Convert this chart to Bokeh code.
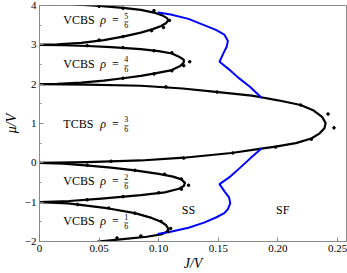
from bokeh.plotting import figure
from bokeh.models import Range1d, FixedTicker
from bokeh.core.properties import value
from bokeh.embed import file_html
from bokeh.resources import INLINE

# ---- Mott lobes (black) : J/V and mu/V ----
lobe5_J = [0.030, 0.050, 0.070, 0.085, 0.096, 0.103, 0.107, 0.108, 0.106, 0.102, 0.095, 0.085, 0.070, 0.054, 0.035, 0.015, 0.0]
lobe5_mu = [4.03, 3.99, 3.94, 3.89, 3.82, 3.75, 3.68, 3.62, 3.55, 3.48, 3.40, 3.31, 3.21, 3.12, 3.05, 3.01, 3.0]

lobe4_J = [0.0, 0.020, 0.040, 0.060, 0.085, 0.100, 0.111, 0.117, 0.121, 0.121, 0.118, 0.110, 0.098, 0.085, 0.070, 0.054, 0.035, 0.015, 0.0]
lobe4_mu = [3.0, 2.99, 2.97, 2.94, 2.89, 2.84, 2.78, 2.70, 2.62, 2.55, 2.46, 2.35, 2.28, 2.21, 2.15, 2.09, 2.04, 2.01, 2.0]

lobe3_J = [0.0, 0.040, 0.085, 0.120, 0.150, 0.178, 0.187, 0.200, 0.219, 0.230, 0.237, 0.240, 0.239, 0.235, 0.228, 0.215, 0.198, 0.186, 0.161, 0.121, 0.085, 0.040, 0.0]
lobe3_mu = [2.0, 1.99, 1.96, 1.89, 1.80, 1.71, 1.66, 1.59, 1.47, 1.33, 1.17, 1.01, 0.88, 0.75, 0.62, 0.50, 0.41, 0.36, 0.25, 0.13, 0.06, 0.02, 0.0]

lobe2_J = [0.0, 0.020, 0.041, 0.060, 0.080, 0.100, 0.112, 0.119, 0.122, 0.121, 0.117, 0.105, 0.085, 0.052, 0.025, 0.0]
lobe2_mu = [0.0, -0.02, -0.07, -0.12, -0.19, -0.28, -0.35, -0.42, -0.51, -0.59, -0.66, -0.75, -0.82, -0.91, -0.97, -1.0]

lobe1_J = [0.0, 0.024, 0.058, 0.080, 0.094, 0.102, 0.106, 0.108, 0.107, 0.102, 0.090, 0.070, 0.049]
lobe1_mu = [-1.0, -1.03, -1.16, -1.28, -1.40, -1.50, -1.58, -1.67, -1.75, -1.82, -1.88, -1.94, -2.0]

# ---- SS / SF boundaries (blue) ----
blue_up_J = [0.100, 0.110, 0.125, 0.138, 0.148, 0.155, 0.158, 0.157, 0.154, 0.151, 0.160, 0.167, 0.177, 0.186]
blue_up_mu = [3.82, 3.77, 3.66, 3.50, 3.38, 3.26, 3.10, 2.95, 2.77, 2.57, 2.35, 2.16, 1.92, 1.66]

blue_lo_J = [0.186, 0.177, 0.167, 0.160, 0.151, 0.155, 0.159, 0.160, 0.158, 0.155, 0.148, 0.138, 0.125, 0.110, 0.100]
blue_lo_mu = [0.36, 0.12, -0.16, -0.35, -0.54, -0.72, -0.88, -1.03, -1.18, -1.28, -1.39, -1.52, -1.65, -1.75, -1.80]

# ---- simulation points (small black dots) ----
dots_J = [0.050, 0.070, 0.096, 0.109, 0.104, 0.094, 0.070, 0.050,
          0.040, 0.070, 0.096, 0.111, 0.126, 0.121, 0.111, 0.096, 0.070,
          0.106, 0.149, 0.219, 0.242, 0.247, 0.228, 0.198, 0.162, 0.121, 0.060,
          0.040, 0.080, 0.105, 0.119, 0.125, 0.119, 0.100, 0.070, 0.040,
          0.032, 0.058, 0.080, 0.102, 0.110, 0.108, 0.085, 0.065]
dots_mu = [3.98, 3.93, 3.87, 3.62, 3.44, 3.36, 3.21, 3.12,
           2.98, 2.93, 2.85, 2.80, 2.57, 2.47, 2.34, 2.26, 2.15,
           1.93, 1.80, 1.47, 1.24, 0.89, 0.60, 0.40, 0.25, 0.12, 0.04,
           -0.06, -0.19, -0.29, -0.41, -0.57, -0.67, -0.76, -0.86, -0.94,
           -1.06, -1.15, -1.28, -1.49, -1.67, -1.75, -1.86, -1.91]

# ---- labels ----
phase_names = ["VCBS", "VCBS", "TCBS", "VCBS", "VCBS"]
phase_J = [0.020, 0.020, 0.020, 0.020, 0.020]
phase_mu = [3.62, 2.52, 0.99, -0.47, -1.49]
frac_num = ["5", "4", "3", "2", "1"]
frac_den = ["6", "6", "6", "6", "6"]

region_names = ["SS", "SF"]
region_J = [0.125, 0.204]
region_mu = [-1.20, -1.20]

x_ticks = [0.0, 0.05, 0.10, 0.15, 0.20, 0.25]
x_tick_labels = ["0", "0.05", "0.10", "0.15", "0.20", "0.25"]
y_ticks = [-2, -1, 0, 1, 2, 3, 4]

FONT = "Liberation Serif"
GRAY = "#8a8a8a"

p = figure(width=347, height=273, output_backend="svg", toolbar_location=None,
           x_range=Range1d(0, 0.2575), y_range=Range1d(-2, 4),
           min_border_left=30, min_border_right=1, min_border_top=5, min_border_bottom=0)
p.xgrid.visible = False
p.ygrid.visible = False
p.outline_line_color = GRAY
p.outline_line_width = 1
p.background_fill_color = "white"
p.border_fill_color = "white"

for ax in (p.xaxis[0], p.yaxis[0]):
    ax.axis_line_color = GRAY
    ax.major_tick_line_color = GRAY
    ax.minor_tick_line_color = GRAY
    ax.major_tick_in = 4
    ax.major_tick_out = 0
    ax.minor_tick_in = 2
    ax.minor_tick_out = 0
    ax.major_label_text_font = FONT
    ax.major_label_text_font_size = "11px"
    ax.major_label_text_color = "black"
    ax.axis_label_text_font = FONT
    ax.axis_label_text_font_style = "italic"
    ax.axis_label_text_font_size = "14px"
    ax.axis_label_text_color = "black"

p.xaxis.ticker = FixedTicker(ticks=x_ticks)
p.xaxis.major_label_overrides = {t: s for t, s in zip(x_ticks, x_tick_labels)}
p.xaxis.minor_tick_line_color = None
p.xaxis.major_label_standoff = 3
p.xaxis.axis_label = "J/V"
p.xaxis.axis_label_standoff = 1

p.yaxis.ticker = FixedTicker(ticks=y_ticks, minor_ticks=[-1.5, -0.5, 0.5, 1.5, 2.5, 3.5])
p.yaxis.major_label_standoff = 3
p.yaxis.axis_label = "μ/V"
p.yaxis.axis_label_standoff = 3

for J, mu in [(lobe5_J, lobe5_mu), (lobe4_J, lobe4_mu), (lobe3_J, lobe3_mu),
              (lobe2_J, lobe2_mu), (lobe1_J, lobe1_mu)]:
    p.line(J, mu, line_color="black", line_width=2.2, line_join="round", line_cap="round")

for J, mu in [(blue_up_J, blue_up_mu), (blue_lo_J, blue_lo_mu)]:
    p.line(J, mu, line_color="#0000ff", line_width=2, line_join="round", line_cap="round")

p.scatter(dots_J, dots_mu, size=2.6, color="black")

txt = dict(text_font=value(FONT), text_color="black", text_baseline="middle")
p.text(phase_J, phase_mu, text=phase_names, text_font_size="12px", text_align="left", **txt)
p.text(phase_J, phase_mu, text=["ρ"] * 5, text_font_size="12px", text_align="left",
       text_font_style="italic", x_offset=37, **txt)
p.text(phase_J, phase_mu, text=["="] * 5, text_font_size="12px", text_align="center",
       x_offset=52, **txt)
p.text(phase_J, phase_mu, text=frac_num, text_font_size="8px", text_align="center",
       x_offset=63, y_offset=-4.5, **txt)
p.text(phase_J, phase_mu, text=["–"] * 5, text_font_size="9px", text_align="center",
       x_offset=63, y_offset=0, **txt)
p.text(phase_J, phase_mu, text=frac_den, text_font_size="8px", text_align="center",
       x_offset=63, y_offset=5, **txt)
p.text(region_J, region_mu, text=region_names, text_font_size="12px", text_align="center", **txt)

open("out.html", "w").write(file_html(p, INLINE))
